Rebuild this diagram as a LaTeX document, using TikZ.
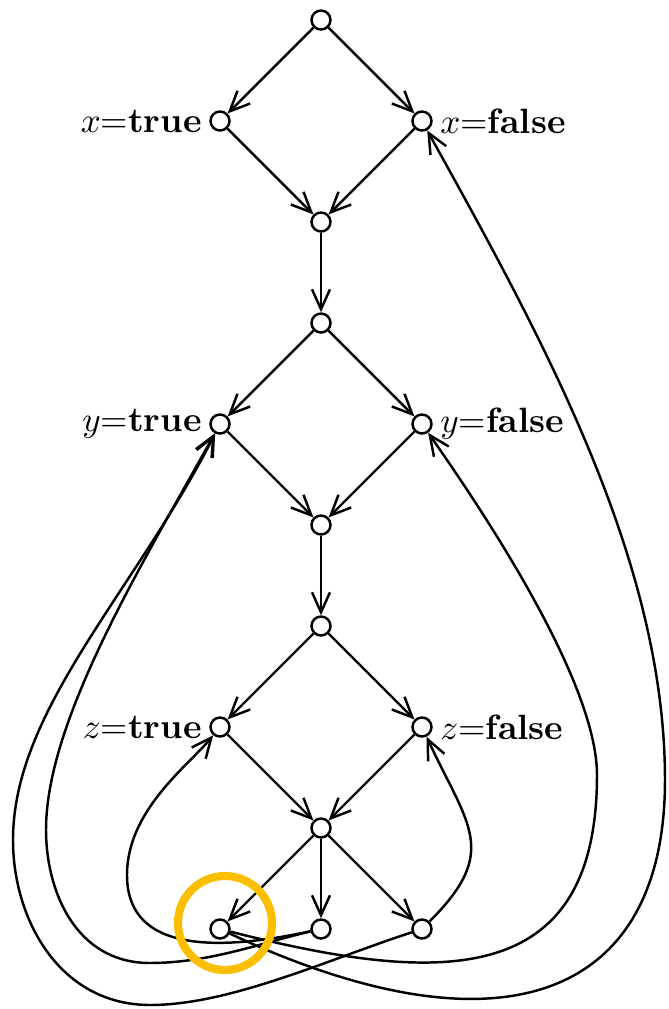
\documentclass[tikz,border=0pt]{standalone}
\usetikzlibrary{arrows.meta, positioning}
\definecolor{hilite}{RGB}{252,190,0}

\begin{document}
\begin{tikzpicture}[>={Straight Barb[length=2mm, width=1.8mm]},
    node distance=1.01cm and 1.01cm, on grid,
    vtx/.style={draw, circle, line width=0.7pt, minimum size=0.19cm, inner sep=0pt},
    every label/.style={inner sep=2pt},
    edge/.style={->, line width=0.7pt}]
  \useasboundingbox (0,0) rectangle (6.69,-10.09);

  \node[vtx] (xtop) at (3.21,-0.2) {};
  \node[vtx, below left=of xtop, label={left:$x$=\textbf{true}}] (xt) {};
  \node[vtx, below right=of xtop, label={right:$x$=\textbf{false}}] (xf) {};
  \node[vtx, below right=of xt] (xbot) {};

  \node[vtx, below=of xbot] (ytop) {};
  \node[vtx, below left=of ytop, label={left:$y$=\textbf{true}}] (yt) {};
  \node[vtx, below right=of ytop, label={right:$y$=\textbf{false}}] (yf) {};
  \node[vtx, below right=of yt] (ybot) {};

  \node[vtx, below=of ybot] (ztop) {};
  \node[vtx, below left=of ztop, label={left:$z$=\textbf{true}}] (zt) {};
  \node[vtx, below right=of ztop, label={right:$z$=\textbf{false}}] (zf) {};
  \node[vtx, below right=of zt] (zbot) {};

  \node[vtx, below left=of zbot] (c1) {};
  \node[vtx, below=of zbot] (c2) {};
  \node[vtx, below right=of zbot] (c3) {};

  \draw[edge] (xtop) -- (xt);
  \draw[edge] (xtop) -- (xf);
  \draw[edge] (xt) -- (xbot);
  \draw[edge] (xf) -- (xbot);
  \draw[edge] (xbot) -- (ytop);
  \draw[edge] (ytop) -- (yt);
  \draw[edge] (ytop) -- (yf);
  \draw[edge] (yt) -- (ybot);
  \draw[edge] (yf) -- (ybot);
  \draw[edge] (ybot) -- (ztop);
  \draw[edge] (ztop) -- (zt);
  \draw[edge] (ztop) -- (zf);
  \draw[edge] (zt) -- (zbot);
  \draw[edge] (zf) -- (zbot);
  \draw[edge] (zbot) -- (c1);
  \draw[edge] (zbot) -- (c2);
  \draw[edge] (zbot) -- (c3);

  \draw[edge] (c3) .. controls +(45:1.1) and +(-65:1.1) .. (zf);
  \draw[edge] (c2) .. controls (2.0,-9.55) and (1.27,-9.45) .. (1.27,-8.75)
    .. controls (1.27,-8.1) and (1.89,-7.65) .. (zt);
  \draw[edge] (c2) .. controls +(193:0.6) and (2.1,-9.63) .. (1.5,-9.63)
    .. controls (0.75,-9.63) and (0.46,-8.9) .. (0.46,-8.3)
    .. controls (0.46,-7.2) and +(-119:1.6) .. (yt);
  \draw[edge] (c3) .. controls +(198:1.0) and (2.3,-10.05) .. (1.5,-10.05)
    .. controls (0.6,-10.05) and (0.13,-9.2) .. (0.13,-8.4)
    .. controls (0.13,-7.1) and +(-117:1.9) .. (yt);
  \draw[edge] (c1) .. controls (4.4,-9.85) and (5.97,-9.9) .. (5.97,-7.75)
    .. controls (5.97,-6.8) and +(-55:1.0) .. (yf);
  \draw[edge] (c1) .. controls (5.0,-10.6) and (6.65,-10.0) .. (6.65,-7.8)
    .. controls (6.65,-5.6) and +(-61:2.5) .. (xf);

  \draw[hilite, line width=2.3pt] (c1) ++(0.05,0.06) circle (0.47);
\end{tikzpicture}
\end{document}
